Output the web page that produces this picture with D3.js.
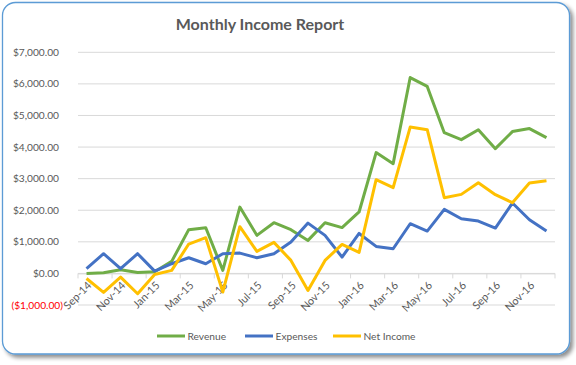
<!DOCTYPE html>
<html><head><meta charset="utf-8">
<script src="https://cdn.jsdelivr.net/npm/d3@7"></script>
<style>html,body{margin:0;padding:0;background:#fff;}svg{display:block;}</style>
</head><body>
<script>
const months = ["Sep-14","Oct-14","Nov-14","Dec-14","Jan-15","Feb-15","Mar-15","Apr-15","May-15","Jun-15","Jul-15","Aug-15","Sep-15","Oct-15","Nov-15","Dec-15","Jan-16","Feb-16","Mar-16","Apr-16","May-16","Jun-16","Jul-16","Aug-16","Sep-16","Oct-16","Nov-16","Dec-16"];
const revenue = [0,20,115,30,55,380,1385,1445,95,2100,1205,1605,1385,1045,1605,1450,1945,3825,3475,6200,5920,4455,4235,4550,3950,4490,4585,4300];
const expenses = [148,624,148,624,73,307,497,307,624,643,497,624,991,1593,1204,516,1265,855,781,1573,1341,2027,1732,1658,1436,2228,1700,1341];
const netIncome = [-160,-602,-117,-643,-32,95,930,1131,-591,1480,697,982,412,-538,412,918,665,2967,2714,4634,4551,2398,2502,2873,2493,2240,2860,2936];
const yTicks = [-1000,0,1000,2000,3000,4000,5000,6000,7000];
const seriesNames = ["Revenue","Expenses","Net Income"];
const seriesColors = ["#70AD47","#4472C4","#FFC000"];

const W = 576, H = 365;
const svg = d3.select("body").append("svg").attr("width", W).attr("height", H);
const defs = svg.append("defs");
const f = defs.append("filter").attr("id","sh").attr("x","-5%").attr("y","-5%").attr("width","115%").attr("height","115%");
f.append("feGaussianBlur").attr("in","SourceAlpha").attr("stdDeviation",2);
f.append("feOffset").attr("dx",3).attr("dy",3).attr("result","b");
f.append("feComponentTransfer").append("feFuncA").attr("type","linear").attr("slope",0.45);
const fm = f.append("feMerge"); fm.append("feMergeNode"); fm.append("feMergeNode").attr("in","SourceGraphic");

svg.append("rect").attr("x",2.5).attr("y",2.5).attr("width",567).attr("height",351.5)
  .attr("rx",13).attr("ry",13).attr("fill","#fff").attr("stroke","#5B9BD5").attr("stroke-width",1.3)
  .attr("filter","url(#sh)");

const font = "Lato, 'Open Sans', sans-serif";
svg.append("text").attr("x",260).attr("y",29.5).attr("text-anchor","middle")
  .attr("font-family",font).attr("font-weight","bold").attr("font-size",16).attr("fill","#595959")
  .text("Monthly Income Report");

const x0 = 78, x1 = 555;
const x = d3.scaleBand().domain(months).range([x0, x1]).paddingInner(0).paddingOuter(0);
const y = d3.scaleLinear().domain([-1000, 7000]).range([305, 52.3]);
const cx = d => x(d) + x.bandwidth()/2;

// gridlines
svg.append("g").selectAll("line").data(yTicks).join("line")
  .attr("x1",x0).attr("x2",x1).attr("y1",d=>y(d)).attr("y2",d=>y(d))
  .attr("stroke","#D9D9D9").attr("stroke-width",1);

// y labels
const fmt = d3.format(",.2f");
svg.append("g").selectAll("text").data(yTicks).join("text")
  .attr("x", d => d < 0 ? 63 : 59).attr("y", d => y(d) + 3.6)
  .attr("text-anchor","end").attr("font-family",font).attr("font-size",10.2).attr("fill", d => d < 0 ? "#FF0000" : "#595959")
  .text(d => d < 0 ? "($" + fmt(-d) + ")" : "$" + fmt(d));

// x axis line and ticks
const xAxis = d3.axisBottom(x).tickValues(months.filter((m,i)=>i%2===0)).tickSize(5).tickFormat("");
const gx = svg.append("g").attr("transform",`translate(0,${y(0)})`).call(xAxis);
gx.select(".domain").attr("stroke","#D9D9D9").attr("d",`M${x0},0.5H${x1}`);
gx.selectAll(".tick line").attr("stroke","#D9D9D9")
  .attr("transform", function(){ return `translate(${-x.bandwidth()/2},0)`; });
gx.append("line").attr("x1",x1).attr("x2",x1).attr("y1",0).attr("y2",5).attr("stroke","#D9D9D9");

// x labels
svg.append("g").selectAll("text").data(months.filter((m,i)=>i%2===0)).join("text")
  .attr("transform", d => `translate(${cx(d)+3},${y(0)+10}) rotate(-45)`)
  .attr("text-anchor","end").attr("font-family",font).attr("font-size",10.8).attr("fill","#595959")
  .attr("dy","0.35em")
  .text(d => d);

// lines
const seriesData = [revenue, expenses, netIncome];
const line = d3.line().x((d,i)=>cx(months[i])).y(d=>y(d));
svg.append("g").selectAll("path").data(seriesData).join("path")
  .attr("d", d => line(d)).attr("fill","none")
  .attr("stroke",(d,i)=>seriesColors[i]).attr("stroke-width",3).attr("stroke-linejoin","round");

// legend
const legX = [157, 245, 333];
const lg = svg.append("g").selectAll("g").data(seriesNames).join("g")
  .attr("transform",(d,i)=>`translate(${legX[i]},336)`);
lg.append("line").attr("x1",0).attr("x2",28).attr("stroke",(d,i)=>seriesColors[i]).attr("stroke-width",3);
lg.append("text").attr("x",30.5).attr("y",3.6).attr("font-family",font).attr("font-size",10.2).attr("fill","#595959").text(d=>d);
</script>
</body></html>
